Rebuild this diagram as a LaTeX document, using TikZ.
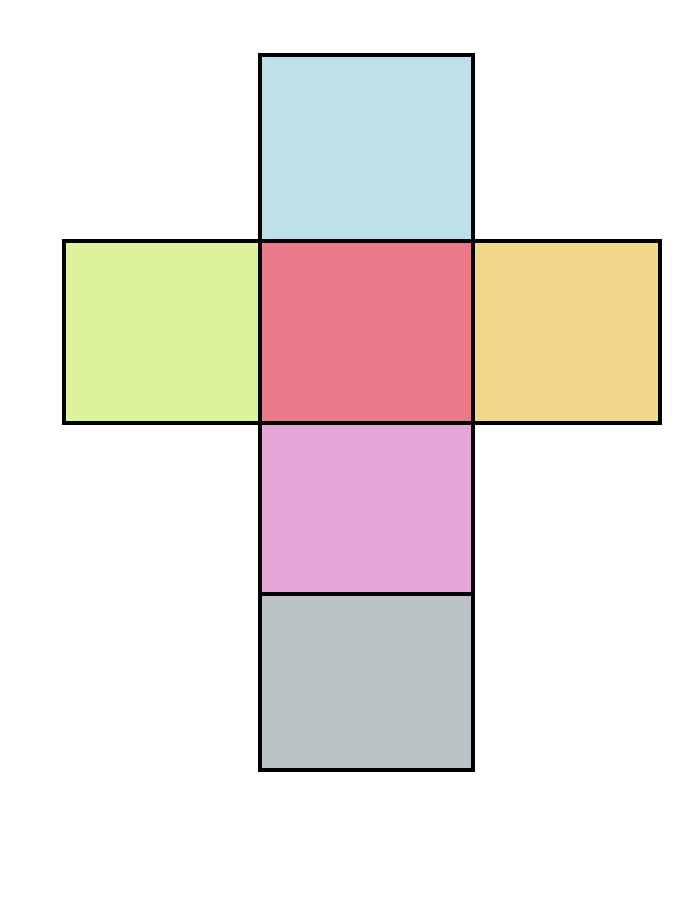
\documentclass[tikz,border=0pt]{standalone}
\usepackage{tikz}
\usetikzlibrary{positioning}

\definecolor{topblue}{HTML}{BEE0E8}
\definecolor{leftlime}{HTML}{DDF39A}
\definecolor{midred}{HTML}{E97A8A}
\definecolor{rightsand}{HTML}{F2D68A}
\definecolor{lowpink}{HTML}{E5A5D7}
\definecolor{basegray}{HTML}{BCC3C7}

\begin{document}
\begin{tikzpicture}[
  face/.style={rectangle, draw=black, line width=2.2pt, inner sep=0pt, outer sep=0pt}
]
  \useasboundingbox (0,0) rectangle (14,18);
  \node[face, fill=topblue, minimum width=4.26cm, minimum height=3.72cm] (ftop) at (7.33,15.04) {};
  \node[face, fill=leftlime, minimum width=3.92cm, minimum height=3.64cm] (fleft) at (3.24,11.36) {};
  \node[face, fill=rightsand, minimum width=3.74cm, minimum height=3.64cm] (fright) at (11.33,11.36) {};
  \node[face, fill=midred, minimum width=4.26cm, minimum height=3.64cm] (fmid) at (7.33,11.36) {};
  \node[face, fill=lowpink, minimum width=4.26cm, minimum height=3.42cm] (flow) at (7.33,7.83) {};
  \node[face, fill=basegray, minimum width=4.26cm, minimum height=3.52cm] (fbase) at (7.33,4.36) {};
\end{tikzpicture}
\end{document}
